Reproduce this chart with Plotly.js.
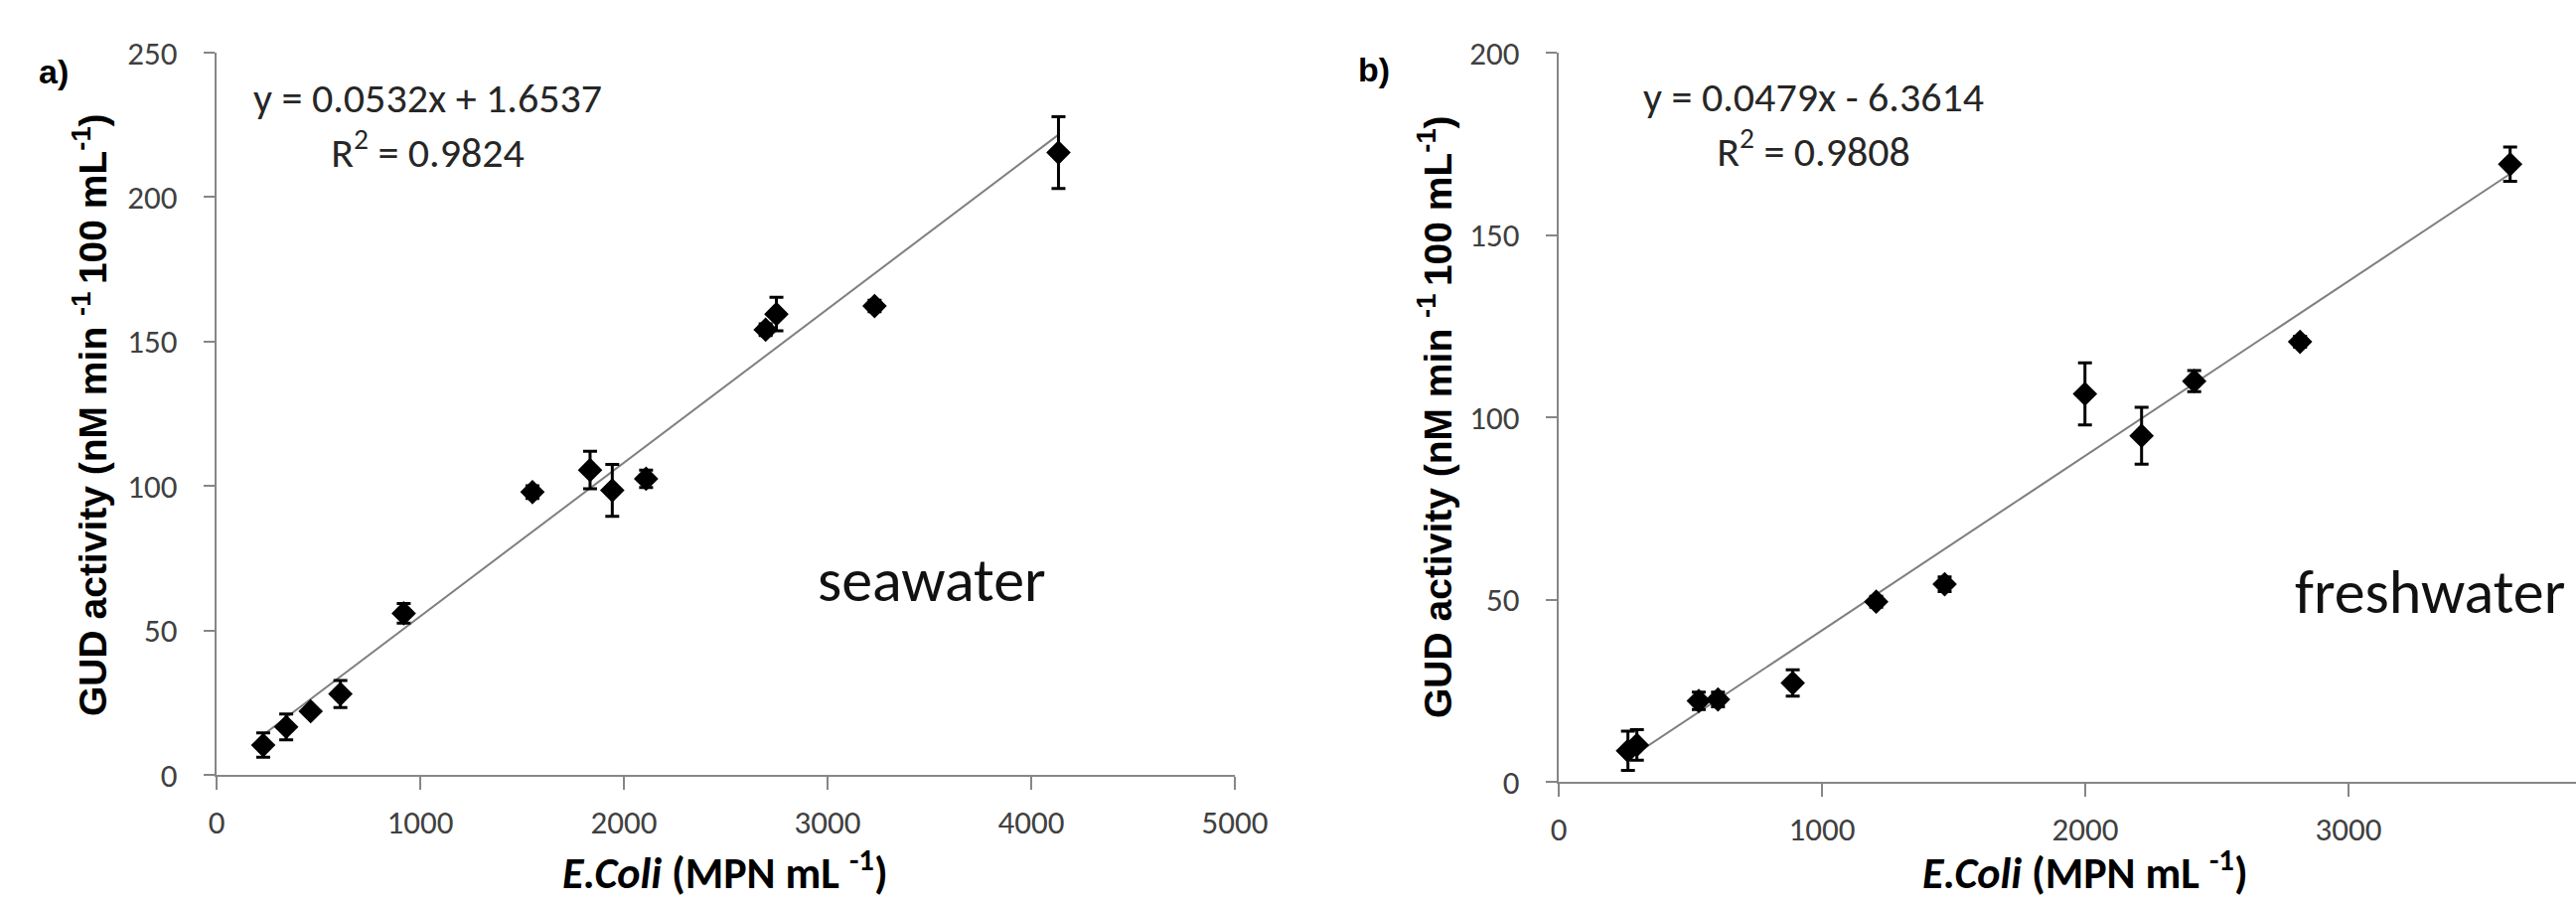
<!DOCTYPE html>
<html>
<head>
<meta charset="utf-8">
<script src="https://cdn.plot.ly/plotly-3.0.1.min.js"></script>
<style>
html, body { margin: 0; padding: 0; overflow: hidden; background: #fff; width: 2593px; height: 910px; }
#chart { width: 2660px; height: 910px; }
</style>
</head>
<body>
<div id="chart"></div>
<script>
// ---- data ----
var seaX   = [229, 342, 462, 608, 919, 1551, 1834, 1943, 2109, 2696, 2749, 3231, 4134];
var seaY   = [10.3, 16.6, 22.0, 28.0, 55.9, 97.9, 105.5, 98.5, 102.5, 154.1, 159.5, 162.3, 215.4];
var seaErr = [4.2, 4.5, 1.2, 4.7, 3.4, 2.2, 6.5, 9.0, 3.0, 2.0, 5.8, 2.0, 12.4];

var freshX   = [263, 297, 532, 605, 889, 1206, 1466, 1999, 2214, 2414, 2816, 3614];
var freshY   = [8.5, 10.1, 22.2, 22.6, 27.1, 49.4, 54.2, 106.4, 94.9, 109.9, 120.7, 169.4];
var freshErr = [5.4, 4.2, 2.4, 2.0, 3.6, 1.5, 2.0, 8.5, 7.8, 2.9, 1.5, 4.7];

// linear fits as printed on the chart [slope, intercept]
var seaFit   = [0.0532, 1.6537];
var freshFit = [0.0479, -6.3614];

var seaXTicks   = [0, 1000, 2000, 3000, 4000, 5000];
var seaYTicks   = [0, 50, 100, 150, 200, 250];
var freshXTicks = [0, 1000, 2000, 3000, 4000];
var freshYTicks = [0, 50, 100, 150, 200];

// ---- helpers ----
var W = 2660, H = 910;
function px(x) { return x / W; }
function py(y) { return 1 - y / H; }
function fitLine(xs, fit) {
  var x0 = Math.min.apply(null, xs), x1 = Math.max.apply(null, xs);
  return { x: [x0, x1], y: [fit[0] * x0 + fit[1], fit[0] * x1 + fit[1]] };
}

var tickFont = { family: 'Carlito, Calibri, Lato, sans-serif', size: 33, color: '#404040' };
var textFont = { family: 'Carlito, Calibri, Lato, sans-serif', size: 42, color: '#262626' };
var bigFont  = { family: 'Carlito, Calibri, Lato, sans-serif', size: 62, color: '#111111' };
var yTitleFont = { family: '"Liberation Sans", Arial, sans-serif', size: 39, color: '#000000' };
var xTitleFont = { family: 'Carlito, Calibri, Lato, sans-serif', size: 44, color: '#000000' };
var labelFont = { family: '"Liberation Sans", Arial, sans-serif', size: 34, color: '#000000' };

function scatter(xs, ys, errs, xa, ya) {
  return {
    type: 'scatter', mode: 'markers', x: xs, y: ys, xaxis: xa, yaxis: ya,
    marker: { symbol: 'diamond', size: 19, color: '#000000' },
    error_y: { type: 'data', array: errs, visible: true, color: '#000000', thickness: 3, width: 7 },
    cliponaxis: false, showlegend: false, hoverinfo: 'x+y'
  };
}
function trend(xs, fit, xa, ya) {
  var l = fitLine(xs, fit);
  return {
    type: 'scatter', mode: 'lines', x: l.x, y: l.y, xaxis: xa, yaxis: ya,
    line: { color: '#7f7f7f', width: 2 }, showlegend: false, hoverinfo: 'skip'
  };
}

var traces = [
  trend(seaX, seaFit, 'x', 'y'),
  scatter(seaX, seaY, seaErr, 'x', 'y'),
  trend(freshX, freshFit, 'x2', 'y2'),
  scatter(freshX, freshY, freshErr, 'x2', 'y2')
];

function xAxis(domain, range, ticks, anchor) {
  return {
    domain: domain, range: range, tickvals: ticks, anchor: anchor,
    showgrid: false, zeroline: false, showline: true, linecolor: '#868686', linewidth: 2,
    ticks: 'outside', ticklen: 13, tickwidth: 2, tickcolor: '#868686',
    tickfont: tickFont, ticklabelstandoff: 4, fixedrange: true
  };
}
function yAxis(domain, range, ticks, anchor) {
  return {
    domain: domain, range: range, tickvals: ticks, anchor: anchor,
    showgrid: false, zeroline: false, showline: true, linecolor: '#868686', linewidth: 2,
    ticks: 'outside', ticklen: 11, tickwidth: 2, tickcolor: '#868686',
    tickfont: tickFont, ticklabelstandoff: 20, fixedrange: true
  };
}

var yTitle = 'GUD activity (nM min <sup>-1 </sup>100 mL<sup>-1</sup>)';
var xTitle = '<i>E.Coli</i> (MPN mL <sup>-1</sup>)';

var annotations = [
  { text: '<b>a)</b>', x: px(54), y: py(72), font: labelFont },
  { text: '<b>b)</b>', x: px(1383), y: py(70), font: labelFont },
  { text: 'y = 0.0532x + 1.6537<br>R<sup>2</sup> = 0.9824', x: px(431), y: py(126), align: 'center', font: textFont },
  { text: 'y = 0.0479x - 6.3614<br>R<sup>2</sup> = 0.9808', x: px(1825), y: py(125), align: 'center', font: textFont },
  { text: 'seawater', x: px(938), y: py(584), font: bigFont },
  { text: 'freshwater', x: px(2308), y: py(596), xanchor: 'left', font: bigFont },
  { text: '<b>' + xTitle + '</b>', x: px(730), y: py(908), yanchor: 'bottom', font: xTitleFont },
  { text: '<b>' + xTitle + '</b>', x: px(2099), y: py(908), yanchor: 'bottom', font: xTitleFont },
  { text: '<b>' + yTitle + '</b>', x: px(91), y: py(418), textangle: -90, font: yTitleFont },
  { text: '<b>' + yTitle + '</b>', x: px(1444), y: py(420), textangle: -90, font: yTitleFont }
].map(function (a) {
  return Object.assign({ xref: 'paper', yref: 'paper', showarrow: false,
                         xanchor: 'center', yanchor: 'middle' }, a);
});

var layout = {
  width: W, height: H,
  margin: { l: 0, r: 0, t: 0, b: 0, pad: 0 },
  paper_bgcolor: '#ffffff', plot_bgcolor: '#ffffff',
  showlegend: false,
  xaxis:  xAxis([px(218), px(1243)], [0, 5000], seaXTicks, 'y'),
  yaxis:  yAxis([py(780), py(53)], [0, 250], seaYTicks, 'x'),
  xaxis2: xAxis([px(1569), px(2629)], [0, 4000], freshXTicks, 'y2'),
  yaxis2: yAxis([py(787), py(53)], [0, 200], freshYTicks, 'x2'),
  annotations: annotations
};

Plotly.newPlot('chart', traces, layout, { staticPlot: true, displayModeBar: false });
</script>
</body>
</html>
